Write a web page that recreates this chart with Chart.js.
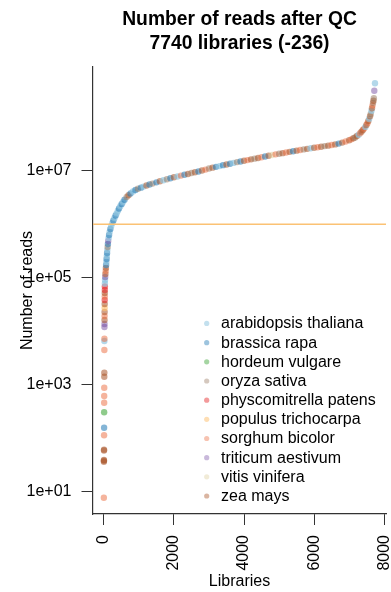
<!DOCTYPE html>
<html>
<head>
<meta charset="utf-8">
<script src="https://cdn.jsdelivr.net/npm/chart.js@4/dist/chart.umd.min.js"></script>
<style>
  html, body { margin: 0; padding: 0; background: #fff; }
  #wrap { width: 391px; height: 592px; }
</style>
</head>
<body>
<div id="wrap"><canvas id="c" width="391" height="592"></canvas></div>
<script>
// ---- data -------------------------------------------------------------
const titleLines = ['Number of reads after QC', '7740 libraries (-236)'];
const xAxisTitle = 'Libraries';
const yAxisTitle = 'Number of reads';

const speciesNames = [
  'arabidopsis thaliana', 'brassica rapa', 'hordeum vulgare', 'oryza sativa',
  'physcomitrella patens', 'populus trichocarpa', 'sorghum bicolor',
  'triticum aestivum', 'vitis vinifera', 'zea mays'
];

// library rank (sorted by read count)
const libraryRank = [
  1, 2, 3, 4, 5, 6, 7, 8, 9, 10, 11, 12, 13, 14, 15, 16, 17, 18, 19, 20,
  21, 22, 23, 24, 25, 26, 27, 28, 29, 30,
  33, 39, 45, 53, 59, 65, 73, 79, 85, 93, 99, 108, 116, 125, 136, 150, 165, 187, 210,
  244, 273, 304, 336, 367, 401, 433, 470, 510, 547, 590, 652, 704, 761, 832, 903,
  975, 1060, 1132, 1217, 1303, 1388,
  1500, 1600, 1700, 1800, 1900, 2000, 2100, 2200, 2300, 2400, 2500, 2600, 2700,
  2800, 2900, 3000, 3100, 3200, 3300, 3400, 3500, 3600, 3700, 3800, 3900, 4000,
  4100, 4200, 4300, 4400, 4500, 4600, 4700, 4800, 4900, 5000, 5100, 5200, 5300,
  5400, 5500, 5600, 5700, 5800, 5900, 6000, 6100, 6200, 6300, 6400, 6500, 6600,
  6700, 6800, 6900, 7000,
  7060, 7120, 7170, 7220, 7270, 7310, 7350, 7390, 7425, 7460, 7490, 7520, 7545,
  7570, 7595, 7615, 7635, 7650, 7665, 7680, 7692, 7703, 7716, 7736
];

// reads per library after QC
const readCount = [
  7.8, 36.8, 38.5, 39.6, 59.6, 61.7, 114.5, 158.8, 307.8, 465, 621, 887, 1423, 1690,
  4486, 6607, 7290, 12050, 13710, 16300, 19360, 22970, 27290, 32430, 38480, 44770,
  52000, 59160, 68850, 78300,
  91000, 103500, 117800, 134000, 152400, 173400, 197200, 224400, 255300, 290400,
  330400, 375900, 427600, 486400, 553400, 629600, 716200, 814800, 926900,
  1.054e6, 1.175e6, 1.309e6, 1.457e6, 1.600e6, 1.783e6, 1.968e6, 2.174e6, 2.389e6,
  2.603e6, 2.862e6, 3.228e6, 3.473e6, 3.752e6, 4.091e6, 4.362e6, 4.592e6, 4.833e6,
  5.050e6, 5.295e6, 5.528e6, 5.744e6,
  6.07e6, 6.37e6, 6.65e6, 6.95e6, 7.23e6, 7.54e6, 7.82e6, 8.11e6, 8.41e6, 8.71e6,
  9.04e6, 9.37e6, 9.70e6, 1.01e7, 1.05e7, 1.10e7, 1.14e7, 1.18e7, 1.22e7, 1.27e7,
  1.31e7, 1.35e7, 1.40e7, 1.45e7, 1.49e7, 1.54e7, 1.58e7, 1.63e7, 1.68e7, 1.73e7,
  1.79e7, 1.84e7, 1.90e7, 1.96e7, 2.02e7, 2.08e7, 2.13e7, 2.19e7, 2.25e7, 2.31e7,
  2.37e7, 2.44e7, 2.50e7, 2.56e7, 2.63e7, 2.69e7, 2.75e7, 2.81e7, 2.88e7, 2.94e7,
  3.02e7, 3.10e7, 3.21e7, 3.35e7, 3.51e7, 3.70e7,
  3.85e7, 4.03e7, 4.17e7, 4.44e7, 4.69e7, 5.00e7, 5.37e7, 5.75e7, 6.12e7, 6.58e7,
  7.13e7, 7.74e7, 8.49e7, 9.31e7, 1.04e8, 1.15e8, 1.32e8, 1.47e8, 1.65e8, 1.85e8,
  2.03e8, 2.25e8, 3.12e8, 4.29e8
];

// species of each library (index into speciesNames)
const speciesIndex = [
  6, 9, 9, 9, 9, 9, 6, 1, 2, 6, 6, 6, 9, 9, 6, 0, 6, 7, 7, 9, 6, 9, 5, 9, 4, 6, 9, 4, 4, 0,
  0, 7, 9, 6, 9, 1, 0, 1, 0, 1, 0, 3, 1, 7, 0, 1, 0, 1, 0,
  0, 1, 0, 1, 0, 0, 1, 0, 1, 0, 1, 3, 9, 1, 0, 1, 3, 1, 0, 9, 1, 3,
  1, 9, 0, 3, 1, 9, 0, 6, 1, 9, 3, 9, 1, 9, 6, 3, 9, 1, 0, 1, 9, 1, 0, 3, 1, 9,
  6, 9, 3, 9, 6, 1, 9, 8, 6, 3, 9, 6, 9, 1, 9, 6, 3, 9, 0, 9, 6, 9, 3, 9, 6, 9,
  1, 9, 6, 9,
  6, 9, 3, 9, 0, 6, 9, 9, 6, 0, 9, 6, 9, 0, 9, 3, 0, 9, 6, 3, 9, 3, 7, 0
];

const qcThreshold = 1e6;

const xTickValues = [0, 2000, 4000, 6000, 8000];
const xTickLabels = ['0', '2000', '4000', '6000', '8000'];
const yTickValues = [1e1, 1e3, 1e5, 1e7];
const yTickLabels = ['1e+01', '1e+03', '1e+05', '1e+07'];
const xLimits = [-309, 8050];
const yLimits = [3.88, 8.65e8];

// ---- styles -------------------------------------------------------------
const speciesColors = [
  'rgba(140,195,222,0.65)',
  'rgba(31,120,180,0.55)',
  'rgba(51,160,44,0.55)',
  'rgba(150,118,92,0.5)',
  'rgba(227,26,28,0.55)',
  'rgba(253,191,111,0.65)',
  'rgba(235,105,60,0.5)',
  'rgba(106,61,154,0.45)',
  'rgba(217,200,143,0.45)',
  'rgba(170,86,42,0.55)'
];
const thresholdColor = '#fbc274';
const axisColor = '#333';
const FONT = "'Liberation Sans', Arial, Helvetica, sans-serif";

Chart.defaults.font.family = FONT;
Chart.defaults.font.size = 16;
Chart.defaults.color = '#000';

// threshold line + legend in the lower right of the plot
const overlayPlugin = {
  id: 'overlay',
  afterDatasetsDraw(chart) {
    const { ctx, chartArea, scales } = chart;
    const py = scales.y.getPixelForValue(qcThreshold);
    ctx.save();
    ctx.strokeStyle = thresholdColor;
    ctx.lineWidth = 1.6;
    ctx.beginPath();
    ctx.moveTo(chartArea.left, py);
    ctx.lineTo(chartArea.right, py);
    ctx.stroke();

    ctx.font = '16px ' + FONT;
    ctx.textBaseline = 'middle';
    ctx.textAlign = 'left';
    const n = speciesNames.length;
    const rowH = 19.17;
    speciesNames.forEach((name, i) => {
      const cy = chartArea.bottom - 18 - (n - 1 - i) * rowH;
      ctx.beginPath();
      ctx.fillStyle = speciesColors[i];
      ctx.globalAlpha = 0.8;
      ctx.arc(chartArea.right - 179.3, cy, 2.6, 0, Math.PI * 2);
      ctx.fill();
      ctx.globalAlpha = 1;
      ctx.fillStyle = '#000';
      ctx.fillText(name, chartArea.right - 165, cy + 0.5);
    });
    ctx.restore();
  }
};

new Chart(document.getElementById('c'), {
  type: 'scatter',
  data: {
    datasets: [{
      data: libraryRank.map((r, i) => ({ x: r, y: readCount[i] })),
      backgroundColor: speciesIndex.map(k => speciesColors[k]),
      borderWidth: 0,
      pointRadius: 3.2,
      pointHoverRadius: 3.2
    }]
  },
  options: {
    responsive: false,
    animation: false,
    devicePixelRatio: 1,
    layout: { padding: { top: 0, left: 0, right: 5, bottom: 0 } },
    plugins: {
      legend: { display: false },
      tooltip: { enabled: false },
      title: {
        display: true,
        text: titleLines,
        fullSize: false,
        color: '#000',
        font: { size: 19.3, weight: 'bold', lineHeight: 24 / 19.3 },
        padding: { top: 7.3, bottom: 11.7 }
      }
    },
    scales: {
      x: {
        type: 'linear',
        min: xLimits[0],
        max: xLimits[1],
        afterBuildTicks: s => { s.ticks = xTickValues.map(v => ({ value: v })); },
        afterFit: s => { s.height = 78; s.paddingLeft = 0; s.paddingRight = 0; },
        ticks: {
          minRotation: 90, maxRotation: 90, autoSkip: false, padding: 10,
          color: '#000', font: { size: 16 },
          callback: (v, i) => xTickLabels[i]
        },
        grid: { drawOnChartArea: false, drawTicks: true, tickLength: 11, color: axisColor, lineWidth: 1 },
        border: { display: true, color: axisColor, width: 1.2 },
        title: { display: true, text: xAxisTitle, color: '#000', font: { size: 16 }, padding: { top: 0, bottom: 0.6 } }
      },
      y: {
        type: 'logarithmic',
        min: yLimits[0],
        max: yLimits[1],
        afterBuildTicks: s => { s.ticks = yTickValues.map(v => ({ value: v })); },
        afterFit: s => { s.width = 93; s.paddingTop = 0; s.paddingBottom = 0; },
        ticks: {
          padding: 10, color: '#000', font: { size: 16 },
          callback: (v, i) => yTickLabels[i]
        },
        grid: { drawOnChartArea: false, drawTicks: true, tickLength: 11.5, color: axisColor, lineWidth: 1 },
        border: { display: true, color: axisColor, width: 1.2 },
        title: { display: true, text: yAxisTitle, color: '#000', font: { size: 16 }, padding: { top: 18.2, bottom: 0 } }
      }
    }
  },
  plugins: [overlayPlugin]
});
</script>
</body>
</html>
